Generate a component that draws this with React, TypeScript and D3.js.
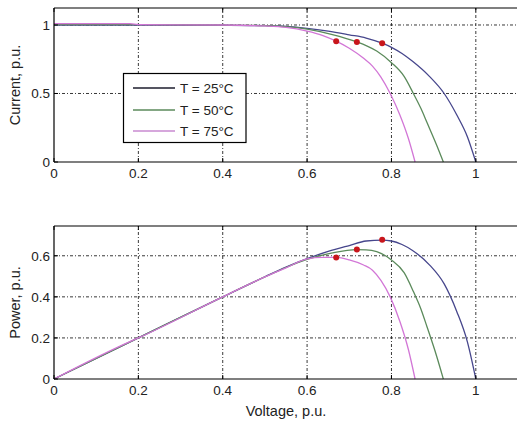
import React from "react";
import * as d3 from "d3";

// I-V and P-V characteristics of a PV module at three cell temperatures (per-unit)
const seriesNames = ["T = 25°C", "T = 50°C", "T = 75°C"];
const seriesColors = ["#46468c", "#5b8a5b", "#d276d6"];
const legendColors = ["#1c1c2c", "#5b8a5b", "#c98ad0"];

const voltage25 = [0, 0.2, 0.4, 0.5, 0.55, 0.6, 0.65, 0.7, 0.74, 0.778, 0.8, 0.825, 0.85, 0.89, 0.925, 0.955, 0.98, 1.0];
const current25 = [1.0, 1.0, 0.998, 0.995, 0.99, 0.976, 0.955, 0.928, 0.905, 0.867, 0.837, 0.792, 0.735, 0.625, 0.5, 0.343, 0.185, 0];
const power25 = [0, 0.2, 0.4, 0.498, 0.545, 0.586, 0.621, 0.65, 0.672, 0.676, 0.672, 0.655, 0.626, 0.556, 0.463, 0.328, 0.181, 0];

const voltage50 = [0, 0.2, 0.4, 0.5, 0.55, 0.6, 0.66, 0.718, 0.74, 0.765, 0.8, 0.83, 0.852, 0.87, 0.884, 0.907, 0.923];
const current50 = [1.003, 1.003, 1.0, 0.995, 0.988, 0.97, 0.93, 0.876, 0.85, 0.81, 0.725, 0.625, 0.5, 0.39, 0.29, 0.124, 0];
const power50 = [0, 0.2, 0.4, 0.497, 0.543, 0.582, 0.614, 0.63, 0.629, 0.62, 0.58, 0.518, 0.426, 0.34, 0.256, 0.112, 0];

const voltage75 = [0, 0.18, 0.2, 0.4, 0.5, 0.55, 0.6, 0.636, 0.669, 0.7, 0.734, 0.755, 0.775, 0.797, 0.82, 0.84, 0.856];
const current75 = [1.01, 1.01, 1.003, 1.0, 0.993, 0.983, 0.956, 0.925, 0.882, 0.83, 0.757, 0.7, 0.62, 0.5, 0.343, 0.173, 0];
const power75 = [0, 0.182, 0.2, 0.4, 0.497, 0.541, 0.585, 0.592, 0.592, 0.58, 0.555, 0.53, 0.48, 0.4, 0.28, 0.145, 0];

// maximum power points
const mppVoltage = [0.778, 0.718, 0.669];
const mppCurrent = [0.867, 0.876, 0.882];
const mppPower = [0.678, 0.63, 0.592];

const xTicks = [0, 0.2, 0.4, 0.6, 0.8, 1];
const currentTicks = [0, 0.5, 1];
const powerTicks = [0, 0.2, 0.4, 0.6];

const voltages = [voltage25, voltage50, voltage75];
const currents = [current25, current50, current75];
const powers = [power25, power50, power75];

const W = 517;
const H = 422;
const FONT = "Arial, 'Liberation Sans', Helvetica, sans-serif";

const x = d3.scaleLinear().domain([0, 1.1]).range([54, 518]);
const yI = d3.scaleLinear().domain([0, 1.124]).range([162, 8]);
const yP = d3.scaleLinear().domain([0, 0.745]).range([379, 226]);

type Pt = [number, number];

function Panel({
  y,
  yTicks,
  ySeries,
  mppY,
  yLabel,
}: {
  y: d3.ScaleLinear<number, number>;
  yTicks: number[];
  ySeries: number[][];
  mppY: number[];
  yLabel: string;
}) {
  const [x0, x1] = x.range();
  const [yb, yt] = y.range();
  const line = d3
    .line<Pt>()
    .x((d) => x(d[0]))
    .y((d) => y(d[1]))
    .curve(d3.curveMonotoneX);
  const gridDash = "3,2,1,2";
  return (
    <g>
      {/* grid */}
      {xTicks.slice(1).map((t) => (
        <line key={"gx" + t} x1={x(t)} x2={x(t)} y1={yb} y2={yt} stroke="#222" strokeWidth={0.9} strokeDasharray={gridDash} />
      ))}
      {yTicks.slice(1).map((t) => (
        <line key={"gy" + t} x1={x0} x2={x1} y1={y(t)} y2={y(t)} stroke="#222" strokeWidth={0.9} strokeDasharray={gridDash} />
      ))}
      {/* curves */}
      {ySeries.map((vals, i) => {
        const pts: Pt[] = voltages[i].map((v, k) => [v, vals[k]]);
        return <path key={"c" + i} d={line(pts) ?? ""} fill="none" stroke={seriesColors[i]} strokeWidth={1.3} />;
      })}
      {/* maximum power points */}
      {mppVoltage.map((v, i) => (
        <circle key={"m" + i} cx={x(v)} cy={y(mppY[i])} r={3} fill="#c8161c" />
      ))}
      {/* axes box */}
      <line x1={x0} x2={x1} y1={yb} y2={yb} stroke="#000" strokeWidth={1.2} />
      <line x1={x0} x2={x1} y1={yt} y2={yt} stroke="#000" strokeWidth={1.2} />
      <line x1={x0} x2={x0} y1={yb} y2={yt} stroke="#000" strokeWidth={1.2} />
      {/* ticks */}
      {xTicks.map((t) => (
        <g key={"tx" + t}>
          <line x1={x(t)} x2={x(t)} y1={yb} y2={yb - 4} stroke="#000" />
          <line x1={x(t)} x2={x(t)} y1={yt} y2={yt + 4} stroke="#000" />
          <text x={x(t)} y={yb + 16} textAnchor="middle" fontSize={13.5} fontFamily={FONT} fill="#222">
            {String(t)}
          </text>
        </g>
      ))}
      {yTicks.map((t) => (
        <g key={"ty" + t}>
          <line x1={x0} x2={x0 + 4} y1={y(t)} y2={y(t)} stroke="#000" />
          <text x={x0 - 4} y={y(t) + 5} textAnchor="end" fontSize={13.5} fontFamily={FONT} fill="#222">
            {String(t)}
          </text>
        </g>
      ))}
      <text
        transform={`translate(20,${(yb + yt) / 2}) rotate(-90)`}
        textAnchor="middle"
        fontSize={14.5}
        fontFamily={FONT}
        fill="#222"
      >
        {yLabel}
      </text>
    </g>
  );
}

export default function App() {
  const legendRows = [88, 110, 131];
  return (
    <svg
      width={W}
      height={H}
      viewBox={`0 0 ${W} ${H}`}
      style={{ position: "absolute", left: 0, top: 0, background: "#fff", display: "block" }}
    >
      <rect x={0} y={0} width={W} height={H} fill="#fff" />
      <Panel y={yI} yTicks={currentTicks} ySeries={currents} mppY={mppCurrent} yLabel="Current, p.u." />
      <Panel y={yP} yTicks={powerTicks} ySeries={powers} mppY={mppPower} yLabel="Power, p.u." />
      <text x={(x.range()[0] + x.range()[1]) / 2} y={416} textAnchor="middle" fontSize={14.5} fontFamily={FONT} fill="#222">
        Voltage, p.u.
      </text>
      {/* legend */}
      <g>
        <rect x={123.5} y={73.5} width={122.5} height={69} fill="#fff" stroke="#000" strokeWidth={1.2} />
        {seriesNames.map((name, i) => (
          <g key={name}>
            <line x1={133} x2={175} y1={legendRows[i]} y2={legendRows[i]} stroke={legendColors[i]} strokeWidth={1.3} />
            <text x={180} y={legendRows[i] + 5} fontSize={13.5} fontFamily={FONT} fill="#222">
              {name}
            </text>
          </g>
        ))}
      </g>
    </svg>
  );
}
